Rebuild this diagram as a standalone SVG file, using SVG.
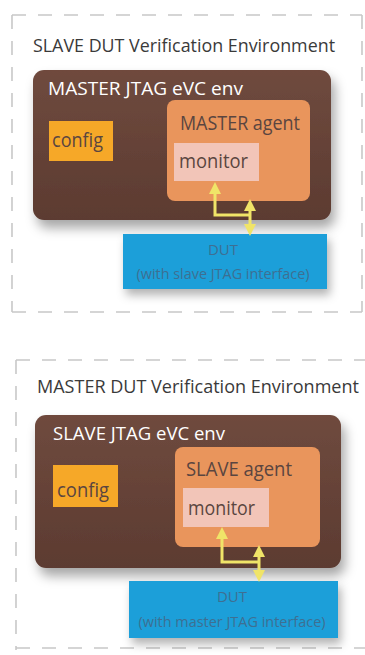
<svg xmlns="http://www.w3.org/2000/svg" width="365" height="655" viewBox="0 0 365 655">
<defs>
<filter id="sh" x="-20%" y="-20%" width="150%" height="160%">
<feDropShadow dx="4" dy="8" stdDeviation="6" flood-color="#000" flood-opacity="0.35"/>
</filter>
<filter id="sh2" x="-20%" y="-20%" width="150%" height="160%">
<feDropShadow dx="3" dy="6" stdDeviation="5" flood-color="#000" flood-opacity="0.3"/>
</filter>
<linearGradient id="brown" x1="0" y1="0" x2="0" y2="1">
<stop offset="0" stop-color="#6f4a3e"/>
<stop offset="1" stop-color="#5c3b31"/>
</linearGradient>
<marker id="ah" viewBox="0 0 10 10" refX="5" refY="5" markerWidth="4" markerHeight="4" orient="auto-start-reverse">
<path d="M0,0 L10,5 L0,10 Z" fill="#f0e468"/>
</marker>
<style>
.frame{fill:none;stroke:#c8c8c8;stroke-width:1.6;stroke-dasharray:14 12}
.title{font-family:"Open Sans","Noto Sans",sans-serif;font-size:19px;fill:#3a3a3a}
.env{font-family:"Open Sans","Noto Sans",sans-serif;font-size:19px;fill:#fff}
.lbl{font-family:"Open Sans","Noto Sans",sans-serif;font-size:20px;fill:#5a4540}
.dut{font-family:"Open Sans","Noto Sans",sans-serif;font-size:15px;fill:#3e6f92;text-anchor:middle}
.brown{fill:url(#brown)}
.agent{fill:#e9955c}
.config{fill:#f6a828}
.mon{fill:#f2c5b8}
.dutbox{fill:#1a9fd9}
.arr{fill:none;stroke:#f0e468;stroke-width:3}
</style>
</defs>

<g id="top-env">
<path class="frame" d="M12,15 H362 M362,15 V312 M12,312 H362 M12,15 V312"/>
<text class="title" x="33" y="52" textLength="302" lengthAdjust="spacingAndGlyphs">SLAVE DUT Verification Environment</text>
</g>
<g id="top-evc">
<rect class="brown" x="33" y="70" width="298" height="150" rx="11" filter="url(#sh)"/>
<text class="env" x="48" y="95" textLength="195" lengthAdjust="spacingAndGlyphs">MASTER JTAG eVC env</text>
</g>
<g id="top-config">
<rect class="config" x="49" y="121" width="64" height="40"/>
<text class="lbl" x="52" y="147" textLength="51" lengthAdjust="spacingAndGlyphs">config</text>
</g>
<g id="top-agent">
<rect class="agent" x="167" y="100" width="143" height="101" rx="8"/>
<text class="lbl" x="180" y="130" textLength="120" lengthAdjust="spacingAndGlyphs">MASTER agent</text>
</g>
<g id="top-monitor">
<rect class="mon" x="174" y="143" width="85" height="38"/>
<text class="lbl" x="179" y="168" textLength="69" lengthAdjust="spacingAndGlyphs">monitor</text>
</g>
<g id="top-dut">
<rect class="dutbox" x="123" y="234" width="204" height="55" filter="url(#sh2)"/>
<text class="dut" x="223" y="255">DUT</text>
<text class="dut" x="223" y="279" textLength="173" lengthAdjust="spacingAndGlyphs">(with slave JTAG interface)</text>
</g>

<g id="bottom-env">
<path class="frame" d="M16,360 H365 M16,360 V650 M16,648 H365"/>
<text class="title" x="37" y="393" style="font-size:18px" textLength="322" lengthAdjust="spacingAndGlyphs">MASTER DUT Verification Environment</text>
</g>
<g id="bottom-evc">
<rect class="brown" x="35" y="415" width="306" height="153" rx="11" filter="url(#sh)"/>
<text class="env" x="53" y="440" textLength="172" lengthAdjust="spacingAndGlyphs">SLAVE JTAG eVC env</text>
</g>
<g id="bottom-config">
<rect class="config" x="53" y="465" width="65" height="42"/>
<text class="lbl" x="57" y="497" textLength="52" lengthAdjust="spacingAndGlyphs">config</text>
</g>
<g id="bottom-agent">
<rect class="agent" x="175" y="447" width="145" height="100" rx="8"/>
<text class="lbl" x="186" y="476" textLength="106" lengthAdjust="spacingAndGlyphs">SLAVE agent</text>
</g>
<g id="bottom-monitor">
<rect class="mon" x="183" y="488" width="86" height="39"/>
<text class="lbl" x="188" y="515" textLength="67" lengthAdjust="spacingAndGlyphs">monitor</text>
</g>
<g id="bottom-dut">
<rect class="dutbox" x="129" y="581" width="209" height="57" filter="url(#sh2)"/>
<text class="dut" x="232" y="602">DUT</text>
<text class="dut" x="232" y="627" textLength="187" lengthAdjust="spacingAndGlyphs">(with master JTAG interface)</text>
</g>

<g id="connectors">
<path class="arr" d="M250,215 H215 V188" marker-end="url(#ah)"/>
<path class="arr" d="M250,205 V230" marker-start="url(#ah)" marker-end="url(#ah)"/>
<path class="arr" d="M259,562 H222 V533" marker-end="url(#ah)"/>
<path class="arr" d="M259,551 V576" marker-start="url(#ah)" marker-end="url(#ah)"/>
</g>
</svg>
